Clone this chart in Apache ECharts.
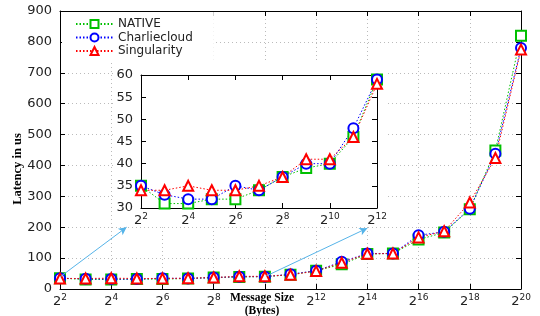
<!DOCTYPE html>
<html>
<head>
<meta charset="utf-8">
<script src="https://cdn.jsdelivr.net/npm/echarts@6/dist/echarts.min.js"></script>
<style>
html, body { margin: 0; padding: 0; background: #fff; }
#myChart { width: 540px; height: 316px; }
</style>
</head>
<body>
<div id="myChart"></div>
<script>
// message size exponents (2^n bytes)
var sizeExp = [2, 3, 4, 5, 6, 7, 8, 9, 10, 11, 12, 13, 14, 15, 16, 17, 18, 19, 20];
var nativeVals = [35, 31, 31, 32, 32, 34, 37, 39, 40, 46, 59, 80, 113, 115, 160, 183, 258, 448, 820];
var charlieVals = [35, 33, 32, 32, 35, 34, 37, 40, 40, 48, 59, 88, 115, 115, 174, 185, 260, 438, 780];
var singVals = [34, 34, 35, 34, 34, 35, 37, 41, 41, 46, 58, 85, 114, 115, 167, 187, 280, 424, 775];
var insetCount = 11; // 2^2 .. 2^12 in the zoom box
// arrows from the main curve up to the zoom box: [from, to] as [exp, latency]
var arrows = [
  [[2, 39], [4.6, 200]],
  [[10.05, 42], [14, 197]]
];

var GREEN = '#00c000', BLUE = '#0000ff', RED = '#ff0000';
var tickFont = 'DejaVu Sans';

function pairs(vals, n) {
  var out = [];
  for (var i = 0; i < (n || vals.length); i++) out.push([sizeExp[i], vals[i]]);
  return out;
}
function powLabel(v) { return '{b|2}{s|' + v + '}'; }

var powRich = {
  b: { fontFamily: tickFont, fontSize: 13, color: '#222', lineHeight: 18 },
  s: { fontFamily: tickFont, fontSize: 9, color: '#222', lineHeight: 10, verticalAlign: 'top' }
};

function xAx(grid, pos, min, max, labels, split, z) {
  return {
    type: 'value', gridIndex: grid, position: pos, min: min, max: max, interval: 2, z: z,
    axisLine: { show: true, onZero: false, lineStyle: { color: '#000', width: 1 } },
    axisTick: { show: true, inside: true, length: 5, lineStyle: { color: '#000' } },
    axisLabel: { show: labels, margin: 4, formatter: powLabel, rich: powRich },
    splitLine: { show: split, lineStyle: { color: '#bbb', type: [1, 3] } }
  };
}
function yAx(grid, pos, min, max, step, labels, split, z) {
  return {
    type: 'value', gridIndex: grid, position: pos, min: min, max: max, interval: step, z: z,
    axisLine: { show: true, onZero: false, lineStyle: { color: '#000', width: 1 } },
    axisTick: { show: true, inside: true, length: 5, lineStyle: { color: '#000' } },
    axisLabel: { show: labels, margin: 8, fontFamily: tickFont, fontSize: 13, color: '#222' },
    splitLine: { show: split, lineStyle: { color: '#bbb', type: [1, 3] } }
  };
}

function line(name, vals, color, sym, xi, yi, n, z) {
  return {
    name: name, type: 'line', xAxisIndex: xi, yAxisIndex: yi, z: z,
    data: pairs(vals, n),
    symbol: sym, symbolSize: 10, showSymbol: true,
    lineStyle: { color: color, width: 1, type: [1.5, 2] },
    itemStyle: { color: color, borderWidth: 1.1 },
    clip: false, animation: false
  };
}

var mainRed = line('Singularity', singVals, RED, 'emptyTriangle', 0, 0, null, 2);
mainRed.markLine = {
  silent: true, symbol: ['none', 'arrow'], symbolSize: [6, 8],
  label: { show: false },
  lineStyle: { color: '#56b4e9', type: 'solid', width: 1 },
  data: arrows.map(function (a) { return [{ coord: a[0] }, { coord: a[1] }]; })
};

var option = {
  animation: false,
  backgroundColor: '#fff',
  grid: [
    { left: 60, right: 19, top: 11, bottom: 27 },
    { left: 141, right: 163, top: 75, bottom: 108, z: 4 }
  ],
  legend: {
    left: 62, top: 12, orient: 'vertical',
    padding: [6, 21, 3, 13],
    backgroundColor: '#fff', z: 6,
    itemWidth: 37, itemHeight: 10, itemGap: 1.5,
    textStyle: { fontFamily: tickFont, fontSize: 12, color: '#222', lineHeight: 12 },
    data: ['NATIVE', 'Charliecloud', 'Singularity']
  },
  xAxis: [
    xAx(0, 'bottom', 2, 20, true, true, 0),
    xAx(0, 'top', 2, 20, false, false, 0),
    xAx(1, 'bottom', 2, 12, true, false, 4),
    xAx(1, 'top', 2, 12, false, false, 4)
  ],
  yAxis: [
    yAx(0, 'left', 0, 900, 100, true, true, 0),
    yAx(0, 'right', 0, 900, 100, false, false, 0),
    yAx(1, 'left', 30, 60, 5, true, false, 4),
    yAx(1, 'right', 30, 60, 5, false, false, 4)
  ],
  series: [
    line('NATIVE', nativeVals, GREEN, 'emptyRect', 0, 0, null, 2),
    line('Charliecloud', charlieVals, BLUE, 'emptyCircle', 0, 0, null, 2),
    mainRed,
    line('NATIVE', nativeVals, GREEN, 'emptyRect', 2, 2, insetCount, 5),
    line('Charliecloud', charlieVals, BLUE, 'emptyCircle', 2, 2, insetCount, 5),
    line('Singularity', singVals, RED, 'emptyTriangle', 2, 2, insetCount, 5)
  ],
  graphic: [
    { type: 'rect', z: 3, silent: true, shape: { x: 114, y: 62, width: 272, height: 162 }, style: { fill: '#fff' } },
    { type: 'text', z: 7, x: 18, y: 169, rotation: Math.PI / 2,
      style: { text: 'Latency in us', font: 'bold 12.5px "Liberation Serif"', fill: '#000', textAlign: 'center', textVerticalAlign: 'middle' } },
    { type: 'text', z: 7, x: 262, y: 298,
      style: { text: 'Message Size', font: 'bold 11.5px "Liberation Serif"', fill: '#000', textAlign: 'center', textVerticalAlign: 'middle', backgroundColor: '#fff', padding: [1, 2] } },
    { type: 'text', z: 7, x: 262, y: 311,
      style: { text: '(Bytes)', font: 'bold 11.5px "Liberation Serif"', fill: '#000', textAlign: 'center', textVerticalAlign: 'middle' } }
  ]
};

var myChart = echarts.init(document.getElementById('myChart'), null, { renderer: 'canvas' });
myChart.setOption(option);
</script>
</body>
</html>
